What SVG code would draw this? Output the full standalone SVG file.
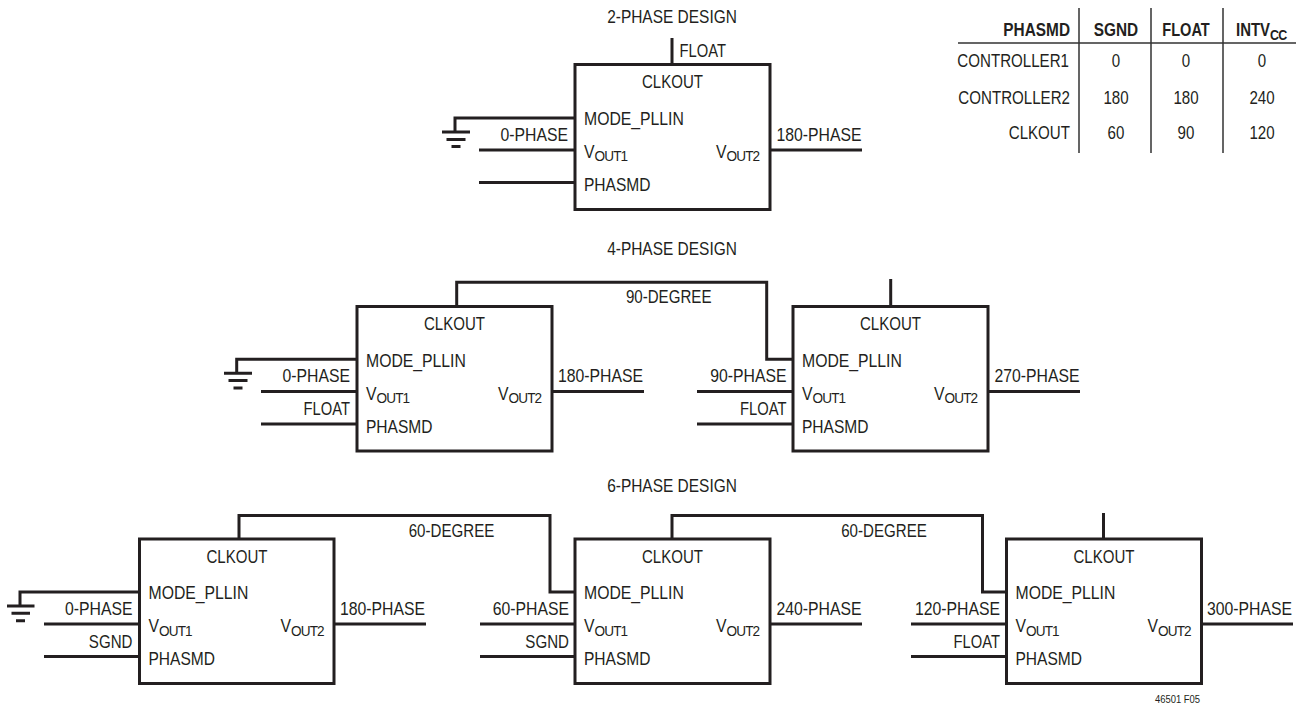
<svg xmlns="http://www.w3.org/2000/svg" width="1301" height="704" viewBox="0 0 1301 704">
<style>
text{font-family:"Liberation Sans",Arial,sans-serif;font-size:18px;fill:#231f20}
.e{text-anchor:end}.m{text-anchor:middle}
.b{font-weight:bold}
.s{font-size:15.5px;letter-spacing:-1px}
.c{font-size:15px;letter-spacing:-1px}
.f{font-size:10.5px}
.box{fill:#fff;stroke:#231f20;stroke-width:3}
.w{fill:none;stroke:#231f20;stroke-width:3}
.t{fill:none;stroke:#333;stroke-width:1.5}
</style>
<rect width="1301" height="704" fill="#fff"/>
<g id="connectors">
<path class="w" d="M672 38V64M455 132V118H575M442 132H470M446.500 139.500H465.500M451.500 146.500H460.500M479 150H575M479 182.500H575M770 150H862"/>
<path class="w" d="M456.700 306V282.300H766.700V359.300H793M236.700 373.300V359.300H357M224 373.300H252M228.500 380.500H247.500M233.500 388H242.500M261 391.500H357M261 424H357M552 391.500H644M890.700 279V306M697 391.500H793M697 424H793M988 391.500H1080"/>
<path class="w" d="M239 539V515.500H550V592H575M672 539V515.500H982.500V592H1007M1103.500 513V539M20 606V592H139.500M7 606H34.500M11.500 613.300H30M16 620.700H25M44 624H139.500M44 656.500H139.500M334 624H426M480 624H575M480 656.500H575M770 624H862M911 624H1007M911 656.500H1007M1201 624H1293"/>
</g>
<g id="titles">
<text class="m" transform="translate(672 22.700) scale(.86 1)">2-PHASE DESIGN</text>
<text class="m" transform="translate(672 254.500) scale(.86 1)">4-PHASE DESIGN</text>
<text class="m" transform="translate(672 491.800) scale(.86 1)">6-PHASE DESIGN</text>
</g>
<g id="chip-2a" transform="translate(575 64.500)">
<rect class="box" width="195" height="145"/>
<text class="m" transform="translate(97.500 23.500) scale(.836 1)">CLKOUT</text>
<text transform="translate(9 60) scale(.877 1)">MODE_PLLIN</text>
<text transform="translate(9 93.300) scale(.877 1)">V<tspan class="s" dy="3.300">OUT1</tspan></text>
<text transform="translate(141 93.300) scale(.877 1)">V<tspan class="s" dy="3.300">OUT2</tspan></text>
<text transform="translate(9 126.200) scale(.865 1)">PHASMD</text>
</g>
<g id="labels-2">
<text transform="translate(679.500 57) scale(.82 1)">FLOAT</text>
<text class="e" transform="translate(568 141) scale(.877 1)">0-PHASE</text>
<text transform="translate(776.500 141) scale(.877 1)">180-PHASE</text>
</g>
<g id="chip-4a" transform="translate(357 306.500)">
<rect class="box" width="195" height="144.500"/>
<text class="m" transform="translate(97.500 23.500) scale(.836 1)">CLKOUT</text>
<text transform="translate(9 60) scale(.877 1)">MODE_PLLIN</text>
<text transform="translate(9 93.300) scale(.877 1)">V<tspan class="s" dy="3.300">OUT1</tspan></text>
<text transform="translate(141 93.300) scale(.877 1)">V<tspan class="s" dy="3.300">OUT2</tspan></text>
<text transform="translate(9 126.200) scale(.865 1)">PHASMD</text>
</g>
<g id="chip-4b" transform="translate(793 306.500)">
<rect class="box" width="195" height="144.500"/>
<text class="m" transform="translate(97.500 23.500) scale(.836 1)">CLKOUT</text>
<text transform="translate(9 60) scale(.877 1)">MODE_PLLIN</text>
<text transform="translate(9 93.300) scale(.877 1)">V<tspan class="s" dy="3.300">OUT1</tspan></text>
<text transform="translate(141 93.300) scale(.877 1)">V<tspan class="s" dy="3.300">OUT2</tspan></text>
<text transform="translate(9 126.200) scale(.865 1)">PHASMD</text>
</g>
<g id="labels-4">
<text class="m" transform="translate(668.700 303.300) scale(.84 1)">90-DEGREE</text>
<text class="e" transform="translate(350 382.300) scale(.877 1)">0-PHASE</text>
<text class="e" transform="translate(350 415) scale(.82 1)">FLOAT</text>
<text transform="translate(558 382.300) scale(.877 1)">180-PHASE</text>
<text class="e" transform="translate(786.500 382.300) scale(.877 1)">90-PHASE</text>
<text class="e" transform="translate(786.500 415) scale(.82 1)">FLOAT</text>
<text transform="translate(994.500 382.300) scale(.877 1)">270-PHASE</text>
</g>
<g id="chip-6a" transform="translate(139.500 539)">
<rect class="box" width="194.500" height="144.500"/>
<text class="m" transform="translate(97.500 23.500) scale(.836 1)">CLKOUT</text>
<text transform="translate(9 60) scale(.877 1)">MODE_PLLIN</text>
<text transform="translate(9 93.300) scale(.877 1)">V<tspan class="s" dy="3.300">OUT1</tspan></text>
<text transform="translate(141 93.300) scale(.877 1)">V<tspan class="s" dy="3.300">OUT2</tspan></text>
<text transform="translate(9 126.200) scale(.865 1)">PHASMD</text>
</g>
<g id="chip-6b" transform="translate(575 539)">
<rect class="box" width="195" height="144.500"/>
<text class="m" transform="translate(97.500 23.500) scale(.836 1)">CLKOUT</text>
<text transform="translate(9 60) scale(.877 1)">MODE_PLLIN</text>
<text transform="translate(9 93.300) scale(.877 1)">V<tspan class="s" dy="3.300">OUT1</tspan></text>
<text transform="translate(141 93.300) scale(.877 1)">V<tspan class="s" dy="3.300">OUT2</tspan></text>
<text transform="translate(9 126.200) scale(.865 1)">PHASMD</text>
</g>
<g id="chip-6c" transform="translate(1006.500 539)">
<rect class="box" width="195" height="144.500"/>
<text class="m" transform="translate(97.500 23.500) scale(.836 1)">CLKOUT</text>
<text transform="translate(9 60) scale(.877 1)">MODE_PLLIN</text>
<text transform="translate(9 93.300) scale(.877 1)">V<tspan class="s" dy="3.300">OUT1</tspan></text>
<text transform="translate(141 93.300) scale(.877 1)">V<tspan class="s" dy="3.300">OUT2</tspan></text>
<text transform="translate(9 126.200) scale(.865 1)">PHASMD</text>
</g>
<g id="labels-6">
<text class="m" transform="translate(451.500 536.700) scale(.84 1)">60-DEGREE</text>
<text class="m" transform="translate(884 536.700) scale(.84 1)">60-DEGREE</text>
<text class="e" transform="translate(132.500 615) scale(.877 1)">0-PHASE</text>
<text class="e" transform="translate(132.500 648) scale(.84 1)">SGND</text>
<text transform="translate(340 615) scale(.877 1)">180-PHASE</text>
<text class="e" transform="translate(569 615) scale(.877 1)">60-PHASE</text>
<text class="e" transform="translate(569 648) scale(.84 1)">SGND</text>
<text transform="translate(776.500 615) scale(.877 1)">240-PHASE</text>
<text class="e" transform="translate(1000 615) scale(.877 1)">120-PHASE</text>
<text class="e" transform="translate(1000 648) scale(.82 1)">FLOAT</text>
<text transform="translate(1207 615) scale(.877 1)">300-PHASE</text>
<text class="f" transform="translate(1155 702.500) scale(.9 1)">46501 F05</text>
</g>
<g id="table">
<path class="t" d="M958 43H1296M1079 8V153M1151 8V153M1223 8V153"/>
<text class="b e" transform="translate(1070 35.700) scale(.855 1)">PHASMD</text>
<text class="b m" transform="translate(1116 35.700) scale(.855 1)">SGND</text>
<text class="b m" transform="translate(1186 35.700) scale(.81 1)">FLOAT</text>
<text class="b" transform="translate(1236 35.700) scale(.83 1)">INTV<tspan class="c" dy="4.300">CC</tspan></text>
<text class="e" transform="translate(1069 67.300) scale(.84 1)">CONTROLLER1</text>
<text class="m" transform="translate(1116 67.300) scale(.84 1)">0</text>
<text class="m" transform="translate(1186 67.300) scale(.84 1)">0</text>
<text class="m" transform="translate(1262 67.300) scale(.84 1)">0</text>
<text class="e" transform="translate(1070 103.500) scale(.84 1)">CONTROLLER2</text>
<text class="m" transform="translate(1116 103.500) scale(.84 1)">180</text>
<text class="m" transform="translate(1186 103.500) scale(.84 1)">180</text>
<text class="m" transform="translate(1262 103.500) scale(.84 1)">240</text>
<text class="e" transform="translate(1070 138.500) scale(.84 1)">CLKOUT</text>
<text class="m" transform="translate(1116 138.500) scale(.84 1)">60</text>
<text class="m" transform="translate(1186 138.500) scale(.84 1)">90</text>
<text class="m" transform="translate(1262 138.500) scale(.84 1)">120</text>
</g>
</svg>
